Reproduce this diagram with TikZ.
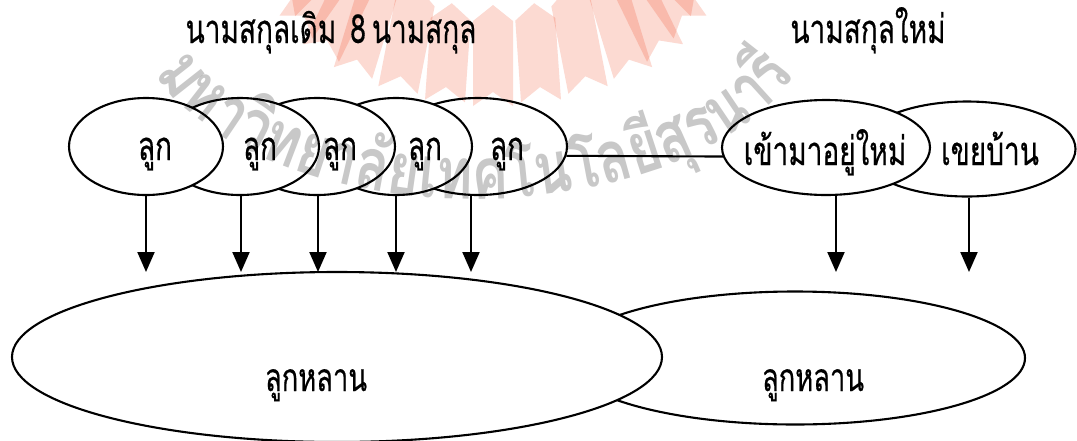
\documentclass[tikz,border=0pt]{standalone}
\usepackage{fontspec}
\newfontfamily\thai[Script=Thai, FakeStretch=0.7, FakeBold=0.4]{Loma}
\newfontfamily\thaiwm[Script=Thai, FakeStretch=0.76]{Loma}
\usetikzlibrary{shapes.geometric, arrows.meta, decorations.text}
\definecolor{wmgray}{RGB}{200,200,200}
\definecolor{logopink}{RGB}{252,218,210}
\begin{document}
\begin{tikzpicture}[x=1pt, y=-1pt,
  elbox/.style={ellipse, draw, line width=2.1pt, fill=white, inner sep=0pt},
  lbl/.style={font=\thai\fontsize{40pt}{46pt}\selectfont, inner sep=0pt, anchor=base},
  biglbl/.style={font=\thai\fontsize{39pt}{44pt}\selectfont, inner sep=0pt, anchor=base},
  conn/.style={line width=2.1pt},
  arr/.style={line width=2.1pt, -{Triangle[length=20pt,width=17pt]}},
  ]
\useasboundingbox (0,0) rectangle (1077,440);
\fill[white] (0,0) rectangle (1077,440);

% titles
\node[lbl] (title1) at (331,43) {นามสกุลเดิม\hspace{14pt}8\hspace{6pt}นามสกุล};
\node[lbl] (title2) at (868,43) {นามสกุลใหม่};

% big ellipses
\node[elbox, minimum width=460pt, minimum height=133pt] (bR) at (795,358) {};
\node[elbox, minimum width=650pt, minimum height=170pt] (bL) at (337,357) {};
\node[biglbl] (tL) at (316,391) {ลูกหลาน};
\node[biglbl] (tR) at (813,391) {ลูกหลาน};

% small ellipses (left group)
\node[elbox, minimum width=178pt, minimum height=97pt] (e5) at (478,146.5) {};
\node[elbox, minimum width=152pt, minimum height=97pt] (e4) at (396,146.5) {};
\node[elbox, minimum width=156pt, minimum height=97pt] (e3) at (317,146.5) {};
\node[elbox, minimum width=158pt, minimum height=97pt] (e2) at (240,146.5) {};
\node[elbox, minimum width=154pt, minimum height=97pt] (e1) at (146,146.5) {};
\node[lbl] (t1) at (155,160) {ลูก};
\node[lbl] (t2) at (260,160) {ลูก};
\node[lbl] (t3) at (340,160) {ลูก};
\node[lbl] (t4) at (425,160) {ลูก};
\node[lbl] (t5) at (507,160) {ลูก};

% right group
\node[elbox, minimum width=217pt, minimum height=95pt] (n2) at (967,149) {};
\node[elbox, minimum width=208pt, minimum height=95pt] (n1) at (826,147.5) {};
\node[lbl] (tn1) at (825,165) {เข้ามาอยู่ใหม่};
\node[lbl] (tn2) at (990,165) {เขยบ้าน};

% connector
\draw[conn] (e5.-6.5) -- (n1.185.3);

% arrows
\coordinate (a1) at (146,272);
\coordinate (a2) at (241,272);
\coordinate (a3) at (318,272);
\coordinate (a4) at (396,272);
\coordinate (a5) at (471,272);
\coordinate (a6) at (836,272);
\coordinate (a7) at (969,272);
\draw[arr] (e1.south -| a1) -- (a1);
\draw[arr] (e2.south -| a2) -- (a2);
\draw[arr] (e3.south -| a3) -- (a3);
\draw[arr] (e4.south -| a4) -- (a4);
\draw[arr] (e5.south -| a5) -- (a5);
\draw[arr] (n1.south -| a6) -- (a6);
\draw[arr] (n2.south -| a7) -- (a7);

% watermark (emblem rays and arched name)
\begin{scope}[blend mode=multiply]
  \foreach \bx/\by/\tl/\len in {493/106/0/101, 541/101/4/98, 445/101/-4/98,
      588/90/11/105, 398/90/-11/105, 633/73/17/105, 353/73/-17/105,
      665/53/26/100, 321/53/-26/100, 690/27/35/90, 296/27/-35/90,
      705/2/45/60, 281/2/-45/60}{
    \fill[logopink, shift={(\bx,\by)}, rotate=\tl]
      (-20,0) -- (0,-14) -- (20,0) -- (20,-\len+16) -- (0,-\len) -- (-20,-\len+16) -- cycle;
  }
  \path[decorate, decoration={text along path, text align=center,
      text={|\thaiwm\bfseries\fontsize{72pt}{80pt}\selectfont\color{wmgray}|มหา{วิ}ทยา{ลั}ยเทคโนโล{ยี}{สุ}รนา{รี}}}]
    plot[domain=-80:80, samples=41] ({475+343*sin(\x)}, {5+194*cos(\x)});
\end{scope}
\end{tikzpicture}
\end{document}
